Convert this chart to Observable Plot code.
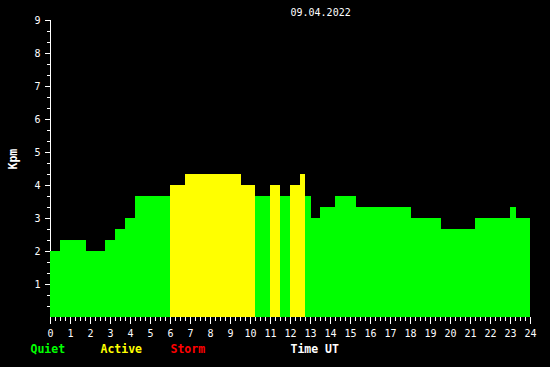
<!DOCTYPE html>
<html>
<head>
<meta charset="utf-8">
<script src="https://cdn.jsdelivr.net/npm/d3@7"></script>
<script src="https://cdn.jsdelivr.net/npm/@observablehq/plot@0.6"></script>
<style>
  html, body { margin: 0; padding: 0; background: #000; }
</style>
</head>
<body>
<div id="chart"></div>
<script>
// Kpm step values (start hour of each step, value)
const startHours = [0, 0.5, 1.8, 2.75, 3.25, 3.75, 4.25, 6, 6.75, 9.55, 10.25, 11, 11.5, 12, 12.5, 12.75, 13.05, 13.5, 14.25, 15.3, 18.05, 19.55, 21.25, 23, 23.3];
const kpmValues  = [2, 2.333, 2, 2.333, 2.667, 3, 3.667, 4, 4.333, 4, 3.667, 4, 3.667, 4, 4.333, 3.667, 3, 3.333, 3.667, 3.333, 3, 2.667, 3, 3.333, 3];
const endHour = 24;

const title = "09.04.2022";
const yLabel = "Kpm";
const legendLabels = ["Quiet", "Active", "Storm", "Time UT"];
const legendColors = ["#00ff00", "#ffff00", "#ff0000", "#ffffff"];
const legendPos = [-1, 2.5, 6, 12];

const xMajorTicks = d3.range(0, 25, 1);
const xMinorTicks = d3.range(0, 24.001, 0.25);
const yMajorTicks = d3.range(1, 10, 1);
const yMinorTicks = d3.range(1, 28).map(i => i / 3);

const bars = startHours.map((s, i) => ({
  x1: s,
  x2: i + 1 < startHours.length ? startHours[i + 1] : endHour,
  y: kpmValues[i],
  color: kpmValues[i] >= 5 ? "#ff0000" : kpmValues[i] >= 4 ? "#ffff00" : "#00ff00"
}));
const legend = legendLabels.map((t, i) => ({t, x: legendPos[i], c: legendColors[i]}));

const chart = Plot.plot({
  width: 550,
  height: 367,
  marginLeft: 50,
  marginRight: 20,
  marginTop: 20,
  marginBottom: 50,
  style: {background: "#000", color: "#fff", fontFamily: "DejaVu Sans Mono", fontSize: "10px"},
  x: {domain: [0, 24]},
  y: {domain: [0, 9]},
  marks: [
    Plot.ruleX([0], {stroke: "#fff"}),
    Plot.rectY(bars, {x1: "x1", x2: "x2", y: "y", fill: "color", inset: 0}),
    Plot.axisX({ticks: xMinorTicks, tickSize: 4, text: null, label: null, stroke: "#fff"}),
    Plot.axisX({ticks: xMajorTicks, tickSize: 7, tickPadding: 5, stroke: "#fff", fill: "#fff", label: null, tickFormat: d => String(d)}),
    Plot.axisY({ticks: yMinorTicks, tickSize: 3, text: null, label: null, stroke: "#fff"}),
    Plot.axisY({ticks: yMajorTicks, tickSize: 5, tickPadding: 5, stroke: "#fff", fill: "#fff", label: null, tickFormat: d => String(d)}),
    Plot.text([title], {x: 12, frameAnchor: "top", dy: -8, textAnchor: "start", fill: "#fff", fontSize: 10, lineAnchor: "middle"}),
    Plot.text([yLabel], {y: 4.8, frameAnchor: "left", dx: -37.5, rotate: -90, textAnchor: "middle", fill: "#fff", fontWeight: "bold", fontSize: 11.5, lineAnchor: "middle"}),
    Plot.text(legend, {x: "x", text: "t", fill: "c", frameAnchor: "bottom", dy: 32, textAnchor: "start", fontWeight: "bold", fontSize: 11.5, lineAnchor: "middle"})
  ]
});
document.getElementById("chart").appendChild(chart);
</script>
</body>
</html>
